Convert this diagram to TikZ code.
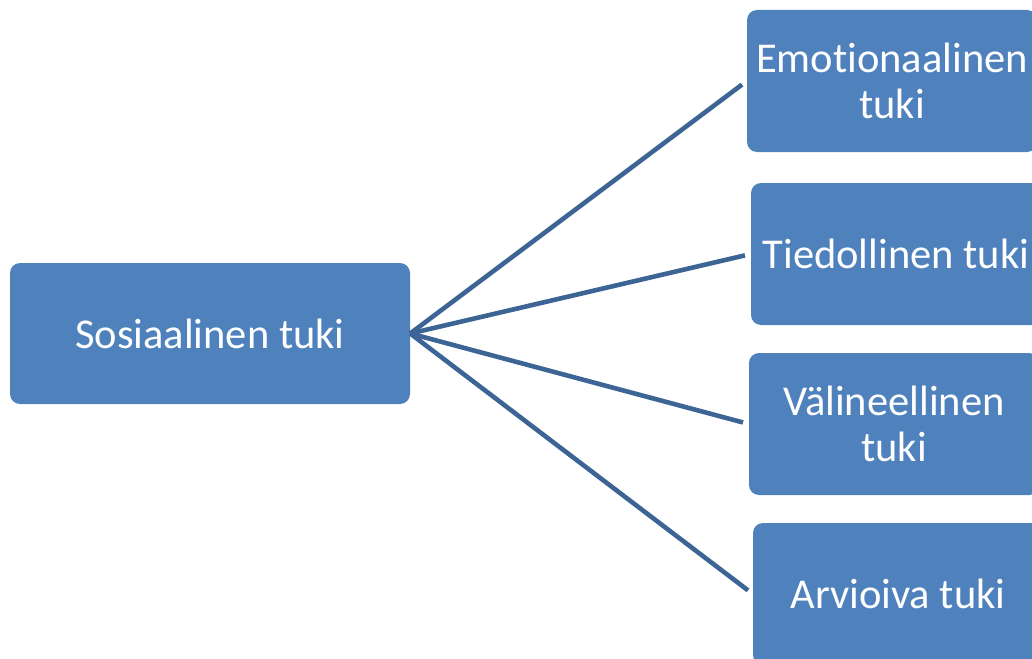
\documentclass[tikz,border=0pt]{standalone}
\usepackage{fontspec}
\setmainfont{Carlito}[Ligatures={NoCommon,NoDiscretionary}]
\definecolor{boxfill}{HTML}{4F81BD}
\definecolor{linkcol}{HTML}{3C6595}
\begin{document}
\begin{tikzpicture}[x=1pt,y=-1pt,
  box/.style={fill=boxfill,draw=none,rounded corners=10pt,inner sep=0pt,
    text=white,align=center,font=\fontsize{42.5}{46}\selectfont},
  link/.style={draw=linkcol,line width=4.6pt,shorten >=6pt}]
\useasboundingbox (0,0) rectangle (1032,658);
\clip (0,0) rectangle (1032,658);
\node[box,minimum width=400pt,minimum height=141pt] (root) at (210,333.5) {Sosiaalinen tuki};
\node[box,minimum width=290pt,minimum height=142pt] (b1) at (892,81) {Emot\kern0pt ionaalinen\\tuki};
\node[box,minimum width=290pt,minimum height=142pt] (b2) at (896,254) {Tiedollinen tuki};
\node[box,minimum width=290pt,minimum height=142pt] (b3) at (894,424) {Välineellinen\\tuki};
\node[box,minimum width=290pt,minimum height=142pt] (b4) at (898,594) {Arvioiva tuki};
\draw[link] (root.east) -- (b1.west);
\draw[link] (root.east) -- (b2.west);
\draw[link] (root.east) -- (b3.west);
\draw[link] (root.east) -- (b4.west);
\end{tikzpicture}
\end{document}
